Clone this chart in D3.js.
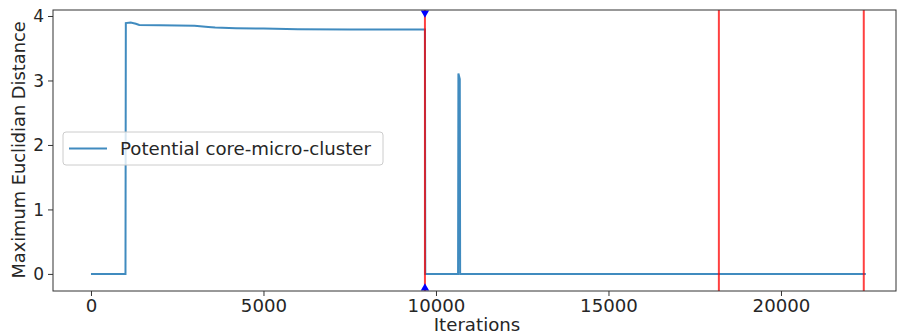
<!DOCTYPE html>
<html>
<head>
<meta charset="utf-8">
<script src="https://cdn.jsdelivr.net/npm/d3@7"></script>
<style>
  body { margin: 0; background: #fff; }
  text { font-family: "DejaVu Sans", sans-serif; fill: #262626; }
</style>
</head>
<body>
<svg id="chart" width="898" height="336"></svg>
<script>
// iteration, max distance of the potential core-micro-cluster
var iterations = [0, 1000, 1010, 1150, 1300, 1400, 2000, 3000, 3400, 3600, 4200, 5000, 6000, 7500, 9680,
                  9690, 10640, 10650, 10690, 10700, 22460];
var distances  = [0, 0, 3.89, 3.90, 3.88, 3.86, 3.855, 3.85, 3.83, 3.82, 3.81, 3.805, 3.795, 3.79, 3.79,
                  0, 0, 3.11, 3.02, 0, 0];
var redLines = [9680, 18200, 22400];
var markerIter = 9680;
var xTicks = [0, 5000, 10000, 15000, 20000];
var yTicks = [0, 1, 2, 3, 4];

(function () {
  var svg = d3.select("#chart");
  var mLeft = 53, mRight = 896, mTop = 10, mBottom = 291;
  var stretch = 1.07;

  var x = d3.scaleLinear().domain([-1101, 23334]).range([mLeft, mRight]);
  var y = d3.scaleLinear().domain([-0.265, 4.093]).range([mBottom, mTop]);

  var g = svg.append("g");

  g.append("defs").append("clipPath").attr("id", "clip")
    .append("rect").attr("x", mLeft).attr("y", mTop).attr("width", mRight - mLeft).attr("height", mBottom - mTop);

  var plot = g.append("g").attr("clip-path", "url(#clip)");

  var pts = iterations.map(function (d, i) { return [d, distances[i]]; });
  plot.append("path")
    .datum(pts)
    .attr("fill", "none")
    .attr("stroke", "#1f77b4")
    .attr("stroke-opacity", 0.85)
    .attr("stroke-width", 2)
    .attr("d", d3.line().x(function (d) { return x(d[0]); }).y(function (d) { return y(d[1]); }));

  plot.selectAll(".red").data(redLines).enter().append("line")
    .attr("x1", function (d) { return x(d); }).attr("x2", function (d) { return x(d); })
    .attr("y1", mTop).attr("y2", mBottom)
    .attr("stroke", "#ff0000").attr("stroke-opacity", 0.75).attr("stroke-width", 2);

  // triangle markers at the plot edges
  var tri = d3.symbol().type(d3.symbolTriangle).size(30);
  plot.append("path").attr("d", tri)
    .attr("transform", "translate(" + x(markerIter) + "," + (y(y.domain()[1]) + 3) + ") rotate(180)")
    .attr("fill", "#0000ff");
  plot.append("path").attr("d", tri)
    .attr("transform", "translate(" + x(markerIter) + "," + (y(y.domain()[0]) - 3) + ")")
    .attr("fill", "#0000ff");

  // axes
  var xAxis = d3.axisBottom(x).tickValues(xTicks).tickSize(5).tickPadding(4).tickFormat(d3.format("d"));
  var yAxis = d3.axisLeft(y).tickValues(yTicks).tickSize(5).tickPadding(4).tickFormat(d3.format("d"));

  var gx = g.append("g").attr("transform", "translate(0," + mBottom + ")").call(xAxis);
  var gy = g.append("g").attr("transform", "translate(" + mLeft + ",0)").call(yAxis);
  [gx, gy].forEach(function (a) {
    a.select(".domain").remove();
    a.selectAll(".tick line").attr("stroke", "#333");
    a.selectAll(".tick text").style("font-size", "17px").attr("fill", "#262626")
      .style("font-family", "DejaVu Sans, sans-serif");
  });
  gx.selectAll(".tick text").attr("transform", "scale(" + stretch + ",1)");
  gy.selectAll(".tick text").attr("dy", "0.35em");

  g.append("rect").attr("x", mLeft).attr("y", mTop).attr("width", mRight - mLeft).attr("height", mBottom - mTop)
    .attr("fill", "none").attr("stroke", "#333").attr("stroke-width", 1);

  g.append("text").attr("transform", "translate(" + 477 + ",331) scale(" + stretch + ",1)")
    .attr("text-anchor", "middle").style("font-size", "17px").text("Iterations");
  g.append("text").attr("transform", "translate(25," + 150 + ") rotate(-90)")
    .attr("text-anchor", "middle").style("font-size", "17.8px").text("Maximum Euclidian Distance");

  // legend
  var lg = g.append("g").attr("transform", "translate(63,132)");
  lg.append("rect").attr("width", 320).attr("height", 33).attr("rx", 3)
    .attr("fill", "#fff").attr("fill-opacity", 0.8).attr("stroke", "#ccc");
  lg.append("line").attr("x1", 6).attr("x2", 44).attr("y1", 16.5).attr("y2", 16.5)
    .attr("stroke", "#1f77b4").attr("stroke-opacity", 0.85).attr("stroke-width", 2);
  lg.append("text").attr("transform", "translate(57,23) scale(" + stretch + ",1)")
    .style("font-size", "17px").text("Potential core-micro-cluster");
})();
</script>
</body>
</html>
